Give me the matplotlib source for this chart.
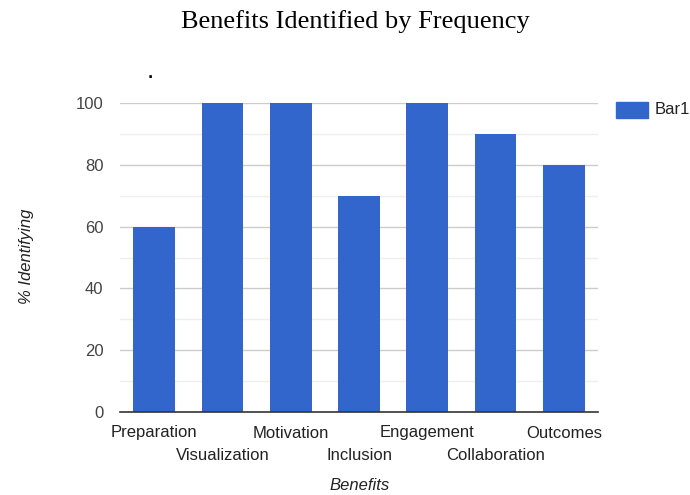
import matplotlib
matplotlib.use("Agg")
import matplotlib.pyplot as plt
from matplotlib.patches import Rectangle

categories = ["Preparation", "Visualization", "Motivation", "Inclusion",
              "Engagement", "Collaboration", "Outcomes"]
values = [60, 100, 100, 70, 100, 90, 80]
series_name = "Bar1"
yticks = [0, 20, 40, 60, 80, 100]
minor_ticks = [10, 30, 50, 70, 90]

BLUE = "#3366CC"
W, H = 690, 495
FS = 12

fig = plt.figure(figsize=(W / 100, H / 100), dpi=100)
ax = fig.add_axes([120 / W, 1 - 412 / H, (598 - 120) / W, (412 - 103) / H])

x = list(range(len(categories)))
ax.bar(x, values, width=0.61, color=BLUE, zorder=3, clip_on=False)

ax.set_xlim(-0.5, len(categories) - 0.5)
ax.set_ylim(0, 100)

for v in minor_ticks:
    ax.axhline(v, color="#EEEEEE", lw=1, zorder=1)
for v in yticks[1:]:
    ax.axhline(v, color="#CCCCCC", lw=1, zorder=1)
ax.axhline(0, color="#333333", lw=1.2, zorder=4, clip_on=False)

for s in ax.spines.values():
    s.set_visible(False)

ax.set_yticks(yticks)
ax.set_yticklabels([str(v) for v in yticks], fontsize=FS, color="#444444",
                   family="Liberation Sans")
ax.tick_params(axis="y", length=0, pad=12)
ax.set_xticks([])

# Staggered category labels
for i, name in enumerate(categories):
    dy = 0 if i % 2 == 0 else 22
    ax.annotate(name, xy=(i, 0), xycoords=("data", "axes fraction"),
                xytext=(0, -21 - dy), textcoords="offset pixels",
                ha="center", va="center", fontsize=FS, color="#222222",
                family="Liberation Sans")

fig.text(360 / W, 1 - 485 / H, "Benefits", ha="center", va="center",
         fontsize=FS, style="italic", color="#222222", family="Liberation Sans")
fig.text(27 / W, 1 - 256 / H, "% Identifying", ha="center", va="center",
         rotation=90, fontsize=FS, style="italic", color="#222222",
         family="Liberation Sans")

fig.text(355 / W, 1 - 22 / H, "Benefits Identified by Frequency", ha="center",
         va="center", fontsize=19, family="Liberation Serif", color="black")

# small stray mark above the plot
fig.text(150 / W, 1 - 74 / H, ".", ha="center", va="center", fontsize=10,
         color="black", weight="bold")

# Legend
fig.patches.append(Rectangle((616 / W, 1 - 118 / H), 32 / W, 16 / H,
                             transform=fig.transFigure, color=BLUE))
fig.text(655 / W, 1 - 110 / H, series_name, ha="left", va="center",
         fontsize=FS, color="#222222", family="Liberation Sans")

fig.savefig("out.png", dpi=100)
